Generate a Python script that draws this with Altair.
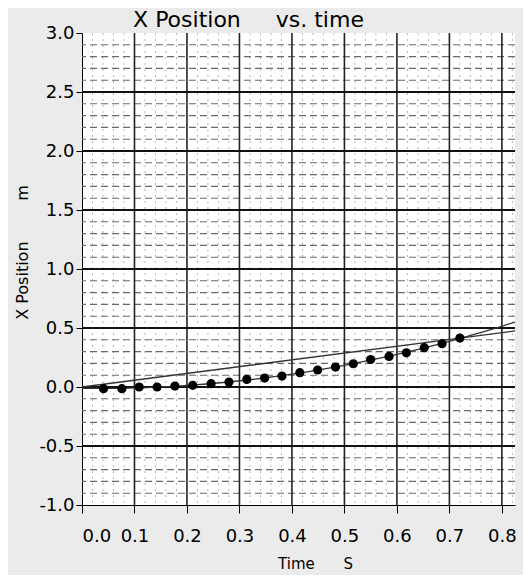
import altair as alt
import pandas as pd

# Measured data points (time in s, x position in m)
times = [0.041, 0.076, 0.109, 0.143, 0.177, 0.211, 0.246, 0.280, 0.314, 0.348, 0.381,
         0.415, 0.449, 0.483, 0.517, 0.550, 0.585, 0.618, 0.652, 0.686, 0.720]
positions = [-0.014, -0.014, 0.0, 0.0, 0.008, 0.014, 0.028, 0.042, 0.064, 0.076, 0.093,
             0.121, 0.144, 0.169, 0.197, 0.233, 0.259, 0.290, 0.333, 0.367, 0.415]

# Straight reference line endpoints
line_t = [0.0, 0.825]
line_x = [0.0, 0.475]

# Tick labels / graph-paper grid positions
x_ticks = [0.0, 0.1, 0.2, 0.3, 0.4, 0.5, 0.6, 0.7, 0.8]
y_ticks = [-1.0, -0.5, 0.0, 0.5, 1.0, 1.5, 2.0, 2.5, 3.0]
x_major = [0.1, 0.2, 0.3, 0.4, 0.5, 0.6, 0.7, 0.8]
y_major = [-0.5, 0.0, 0.5, 1.0, 1.5, 2.0, 2.5]
x_minor = [round(i * 0.02, 2) for i in range(1, 42) if i % 5 != 0]
y_minor = [round(-1 + i * 0.1, 1) for i in range(1, 40) if i % 5 != 0]

NB = "\u00a0"
TITLE = "X Position" + NB * 5 + "vs. time"
X_TITLE = "Time" + NB * 6 + "S"
Y_TITLE = "X Position" + NB * 8 + "m"

X_DOM = [0, 0.825]
Y_DOM = [-1, 3]

pts = pd.DataFrame({"t": times, "x": positions})
lin = pd.DataFrame({"t": line_t, "x": line_x})

xs = alt.Scale(domain=X_DOM, nice=False, zero=False)
ys = alt.Scale(domain=Y_DOM, nice=False, zero=False)

LBL = "datum.value < 0 ? '-' + format(-datum.value, '.1f') : format(datum.value, '.1f')"

x_axis = alt.Axis(values=x_ticks, labelExpr=LBL, grid=False, title=X_TITLE,
                  labelFontSize=18, labelColor="black", tickColor="black", tickSize=8,
                  labelPadding=14, domainColor="black", titleFontSize=15,
                  titleFontWeight="normal", titleColor="black", titlePadding=12,
                  titleX=233, titleY=66, titleBaseline="bottom",
                  labelFont="DejaVu Sans", titleFont="DejaVu Sans")
y_axis = alt.Axis(values=y_ticks, labelExpr=LBL, grid=False, title=Y_TITLE,
                  labelFontSize=18, labelColor="black", tickColor="black", tickSize=6,
                  labelPadding=2, domainColor="black", titleFontSize=16,
                  titleFontWeight="normal", titleColor="black", titlePadding=5,
                  titleY=219, titleX=-52,
                  labelFont="DejaVu Sans", titleFont="DejaVu Sans")

minor_v = alt.Chart(pd.DataFrame({"t": x_minor})).mark_rule(
    color="#b5b5b5", strokeWidth=1, strokeDash=[2, 4]).encode(
    x=alt.X("t:Q", scale=xs, axis=x_axis))
minor_h = alt.Chart(pd.DataFrame({"x": y_minor})).mark_rule(
    color="#6a6a6a", strokeWidth=1.1, strokeDash=[7, 4]).encode(
    y=alt.Y("x:Q", scale=ys, axis=y_axis))
major_v = alt.Chart(pd.DataFrame({"t": x_major})).mark_rule(
    color="#222222", strokeWidth=1.6).encode(
    x=alt.X("t:Q", scale=xs, axis=x_axis))
major_h = alt.Chart(pd.DataFrame({"x": y_major})).mark_rule(
    color="#111111", strokeWidth=1.8).encode(
    y=alt.Y("x:Q", scale=ys, axis=y_axis))

base_x = alt.X("t:Q", scale=xs, axis=x_axis)
base_y = alt.Y("x:Q", scale=ys, axis=y_axis)

straight = alt.Chart(lin).mark_line(color="#333333", strokeWidth=1.3).encode(
    x=base_x, y=base_y)

curve = alt.Chart(pts).transform_regression(
    "t", "x", method="poly", order=2, extent=X_DOM
).mark_line(color="#333333", strokeWidth=1.3).encode(x=base_x, y=base_y)

dots = alt.Chart(pts).mark_circle(color="black", size=85, opacity=1).encode(
    x=base_x, y=base_y)

chart = alt.layer(minor_v, minor_h, major_v, major_h, straight, curve, dots).properties(
    width=433, height=472,
    title=alt.TitleParams(TITLE, anchor="middle", frame="group", dx=-50, dy=10, offset=2,
                          fontSize=22, fontWeight="normal", color="black",
                          font="DejaVu Sans"),
    autosize=alt.AutoSizeParams(type="none"),
    padding={"left": 74, "top": 25, "right": 8, "bottom": 70},
    background="#ebebeb",
).configure_view(fill="white", stroke=None)

chart.save("out.html", embed_options={"renderer": "svg", "actions": False})
